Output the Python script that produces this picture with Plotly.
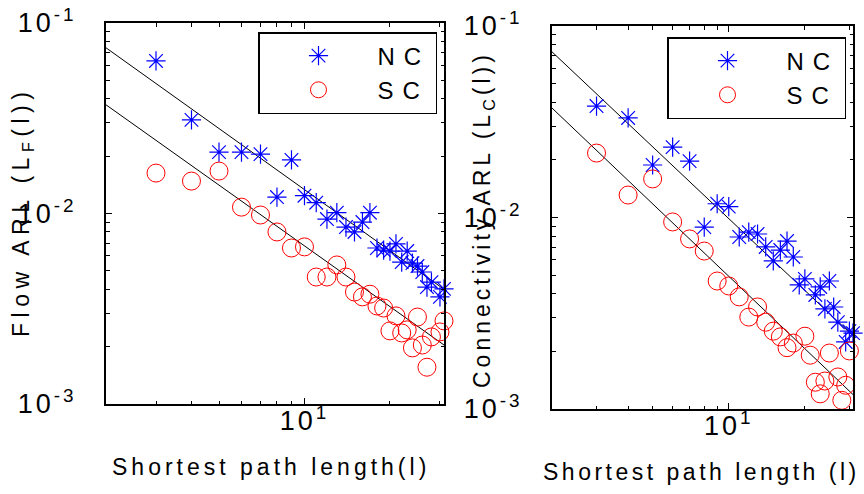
import math
import plotly.graph_objects as go

# ---------------- data ----------------
x_nc_flow = [3, 4, 5, 6, 7, 8, 9, 10, 11, 12, 13, 14, 15, 16, 17, 18, 19, 20, 21, 22, 23, 24, 25, 26, 27, 28, 30, 31]
y_nc_flow = [0.0632, 0.0310, 0.0210, 0.0210, 0.0205, 0.0122, 0.0191, 0.0124, 0.0114, 0.00935, 0.0101, 0.00849,
             0.00800, 0.00902, 0.0101, 0.00659, 0.00643, 0.00635, 0.00692, 0.00556, 0.00635, 0.00549, 0.00530,
             0.00493, 0.00411, 0.00436, 0.00365, 0.00402]

x_sc_flow = [3, 4, 5, 6, 7, 8, 9, 10, 11, 12, 13, 14, 15, 16, 17, 18, 19, 20, 21, 22, 23, 24, 25, 26, 27, 28, 30, 31]
y_sc_flow = [0.0163, 0.0148, 0.0167, 0.0108, 0.00982, 0.00800, 0.00659, 0.00668, 0.00464, 0.00464, 0.00537,
             0.00464, 0.00387, 0.00365, 0.00377, 0.00327, 0.00319, 0.00242, 0.00290, 0.00236, 0.00245, 0.00197,
             0.00286, 0.00204, 0.00156, 0.00225, 0.00239, 0.00273]

x_nc_conn = [3, 4, 5, 6, 7, 8, 9, 10, 11, 12, 13, 14, 15, 16, 17, 18, 19, 20, 22, 23, 24, 25, 26, 27, 29, 30, 31]
y_nc_conn = [0.0382, 0.0331, 0.0188, 0.0233, 0.0197, 0.00891, 0.0118, 0.0114, 0.00791, 0.00839, 0.00820, 0.00702,
             0.00593, 0.00676, 0.00753, 0.00622, 0.00445, 0.00478, 0.00394, 0.00434, 0.00333, 0.00466, 0.00341,
             0.00284, 0.00224, 0.00255, 0.00249]

x_sc_conn = [3, 4, 5, 6, 7, 8, 9, 10, 11, 12, 13, 14, 15, 16, 17, 18, 20, 21, 22, 23, 24, 25, 27, 28, 29, 30]
y_sc_conn = [0.0217, 0.0131, 0.0159, 0.00948, 0.00773, 0.00668, 0.00466, 0.00439, 0.00385, 0.00302, 0.00341,
             0.00284, 0.00255, 0.00238, 0.00209, 0.00221, 0.00240, 0.00191, 0.00138, 0.00120, 0.00140, 0.00196,
             0.00147, 0.00111, 0.00133, 0.00201]

fit_x = [2, 31]
fit_nc_flow = [0.0741, 0.00400]
fit_sc_flow = [0.0372, 0.00204]
fit_nc_conn = [0.0733, 0.00241]
fit_sc_conn = [0.0373, 0.00119]

series_names = ["NC", "SC"]
x_range = [2, 31]
y_range = [0.001, 0.1]
y_ticks = [0.1, 0.01, 0.001]
y_ticktext = ["10<sup>-1</sup>", "10<sup>-2</sup>", "10<sup>-3</sup>"]
x_ticks = [10]
x_ticktext = ["10<sup>1</sup>"]
x_minor = [3, 4, 5, 6, 7, 8, 9, 20, 30]
y_minor = [m * 10 ** e for e in (-3, -2) for m in range(2, 10)]

FONT = "Liberation Sans"
BLUE = "rgb(0,0,255)"
RED = "rgb(255,0,0)"


def sp(text, px=4):
    return f'<span style="letter-spacing:{px}px">{text}</span>'


fig = go.Figure()

panels = [
    ("x", "y", "legend", x_nc_flow, y_nc_flow, x_sc_flow, y_sc_flow, fit_nc_flow, fit_sc_flow),
    ("x2", "y2", "legend2", x_nc_conn, y_nc_conn, x_sc_conn, y_sc_conn, fit_nc_conn, fit_sc_conn),
]
for xa, ya, leg, xn, yn, xs, ys, fn, fs in panels:
    fig.add_trace(go.Scatter(x=fit_x, y=fn, mode="lines", line=dict(color="black", width=1),
                             xaxis=xa, yaxis=ya, showlegend=False, hoverinfo="skip"))
    fig.add_trace(go.Scatter(x=fit_x, y=fs, mode="lines", line=dict(color="black", width=1),
                             xaxis=xa, yaxis=ya, showlegend=False, hoverinfo="skip"))
    fig.add_trace(go.Scatter(x=xn, y=yn, mode="markers", name=sp(series_names[0], 9),
                             marker=dict(symbol="asterisk-open", size=16, color=BLUE,
                                         line=dict(color=BLUE, width=1.2)),
                             xaxis=xa, yaxis=ya, legend=leg, cliponaxis=False))
    fig.add_trace(go.Scatter(x=xs, y=ys, mode="markers", name=sp(series_names[1], 9),
                             marker=dict(symbol="circle-open", size=18, color=RED,
                                         line=dict(color=RED, width=1)),
                             xaxis=xa, yaxis=ya, legend=leg, cliponaxis=False))

common_x = dict(type="log", range=[math.log10(x_range[0]), math.log10(x_range[1])], automargin=False,
                showgrid=False, zeroline=False, showline=True, linecolor="black", linewidth=2,
                mirror="allticks", ticks="inside", ticklen=6, tickwidth=1, tickcolor="black",
                tickvals=x_ticks, ticktext=[sp(t, 3) for t in x_ticktext],
                tickfont=dict(family=FONT, size=27, color="black"), ticklabelstandoff=-8,
                minor=dict(tickvals=x_minor, ticks="inside", ticklen=3.5, tickwidth=1, tickcolor="black"))
common_y = dict(type="log", range=[math.log10(y_range[0]), math.log10(y_range[1])], automargin=False,
                showgrid=False, zeroline=False, showline=True, linecolor="black", linewidth=2,
                mirror="allticks", ticks="inside", ticklen=6, tickwidth=1, tickcolor="black",
                tickvals=y_ticks, ticktext=[sp(t, 3) for t in y_ticktext],
                tickfont=dict(family=FONT, size=27, color="black"), ticklabelstandoff=22,
                minor=dict(tickvals=y_minor, ticks="inside", ticklen=3.5, tickwidth=1, tickcolor="black"))

legend_common = dict(xanchor="left", yanchor="top", bgcolor="white", bordercolor="black", borderwidth=1.5,
                     font=dict(family=FONT, size=24, color="black"), itemwidth=108, tracegroupgap=0)

fig.update_layout(
    width=864, height=494,
    margin=dict(l=0, r=0, t=0, b=0, pad=0, autoexpand=False),
    paper_bgcolor="white", plot_bgcolor="white",
    font=dict(family=FONT, color="black"),
    xaxis=dict(domain=[106 / 864, 444 / 864], anchor="y", **common_x),
    yaxis=dict(domain=[1 - 404 / 494, 1 - 23 / 494], anchor="x", **common_y),
    xaxis2=dict(domain=[552 / 864, 853 / 864], anchor="y2", **common_x),
    yaxis2=dict(domain=[1 - 409 / 494, 1 - 26 / 494], anchor="x2", **common_y),
    legend=dict(x=258 / 864, y=1 - 32 / 494, **legend_common),
    legend2=dict(x=667 / 864, y=1 - 37 / 494, **legend_common),
    showlegend=True,
)

title_font = dict(family=FONT, size=23, color="black")
fig.add_annotation(text=sp("Shortest path length(l)", 4), x=271 / 864, y=1 - 467 / 494,
                   xref="paper", yref="paper", showarrow=False, font=title_font,
                   xanchor="center", yanchor="middle")
fig.add_annotation(text=sp("Shortest path length (l)", 3.5), x=862 / 864, y=1 - 472 / 494,
                   xref="paper", yref="paper", showarrow=False, font=title_font,
                   xanchor="right", yanchor="middle")
fig.add_annotation(text=sp("Flow ARL (L<sub>F</sub>(l))", 5.5), x=22 / 864, y=1 - 212 / 494,
                   xref="paper", yref="paper", showarrow=False, font=title_font, textangle=-90,
                   xanchor="center", yanchor="middle")
fig.add_annotation(text=sp("Connectivity ARL (L<sub>C</sub>(l))", 4), x=483 / 864, y=1 - 220 / 494,
                   xref="paper", yref="paper", showarrow=False, font=title_font, textangle=-90,
                   xanchor="center", yanchor="middle")

fig.write_html("out.html")
